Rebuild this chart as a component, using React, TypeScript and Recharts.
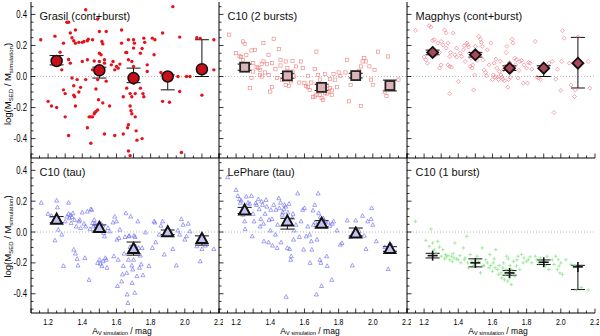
import React from 'react';
import { ScatterChart, Scatter, XAxis, YAxis, ReferenceLine, ErrorBar } from 'recharts';

type Pt = [number, number];

// ---------- axes ----------
const X_DOMAIN: [number, number] = [1.1, 2.2];
const Y_DOMAIN: [number, number] = [-0.525, 0.48];
const xTicks = [1.1, 1.15, 1.2, 1.25, 1.3, 1.35, 1.4, 1.45, 1.5, 1.55, 1.6, 1.65, 1.7, 1.75, 1.8, 1.85, 1.9, 1.95, 2.0, 2.05, 2.1, 2.15, 2.2];
const xTickLabels = [1.2, 1.4, 1.6, 1.8, 2.0, 2.2];
const xMajor = [1.1, 1.2, 1.3, 1.4, 1.5, 1.6, 1.7, 1.8, 1.9, 2.0, 2.1, 2.2];
const yTicks = [-0.5, -0.45, -0.4, -0.35, -0.3, -0.25, -0.2, -0.15, -0.1, -0.05, 0, 0.05, 0.1, 0.15, 0.2, 0.25, 0.3, 0.35, 0.4, 0.45];
const yTickLabels = [-0.4, -0.2, 0, 0.2, 0.4];

// ---------- binned averages ----------
const binAv = [1.25, 1.5, 1.7, 1.9, 2.1];

const grasilBinMean = [0.1, 0.04, -0.01, 0.0, 0.047];
const grasilBinLow = [0.025, 0.05, 0.03, 0.086, 0.047];
const grasilBinHigh = [0.035, 0.02, 0.064, 0.01, 0.19];

const c10TwoBinMean = [0.06, 0.004, -0.07, 0.006, -0.058];
const c10TwoBinLow = [0.02, 0.015, 0.02, 0.015, 0.035];
const c10TwoBinHigh = [0.02, 0.015, 0.02, 0.015, 0.035];

const magphysBinMean = [0.155, 0.14, 0.054, 0.054, 0.086];
const magphysBinLow = [0.015, 0.015, 0.015, 0.054, 0.16];
const magphysBinHigh = [0.015, 0.015, 0.015, 0.015, 0.166];

const c10TauBinMean = [0.08, 0.026, -0.11, -0.002, -0.045];
const c10TauBinLow = [0.02, 0.02, 0.04, 0.015, 0.04];
const c10TauBinHigh = [0.02, 0.02, 0.045, 0.015, 0.02];

const lephareBinMean = [0.14, 0.069, 0.054, -0.01, -0.11];
const lephareBinLow = [0.02, 0.05, 0.02, 0.015, 0.015];
const lephareBinHigh = [0.02, 0.02, 0.02, 0.036, 0.015];

const c10OneBinMean = [-0.153, -0.2, -0.265, -0.196, -0.226];
const c10OneBinLow = [0.015, 0.026, 0.015, 0.015, 0.147];
const c10OneBinHigh = [0.015, 0.026, 0.015, 0.015, 0.01];

// ---------- individual galaxies [A_V, log ratio] ----------
const grasilPoints: Pt[] = [
  [1.157, 0.237], [1.24, 0.26], [1.31, 0.35], [1.32, 0.35], [1.2, -0.16], [1.22, -0.19], [1.25, -0.2], [1.27, 0.157],
  [1.28, 0.043], [1.29, 0.215], [1.29, -0.086], [1.3, -0.11], [1.3, -0.26], [1.32, 0.11], [1.32, -0.38], [1.33, 0.086],
  [1.33, 0.28], [1.34, 0.25], [1.34, -0.01], [1.35, 0.23], [1.35, -0.06], [1.35, -0.12], [1.355, -0.13], [1.36, 0.3],
  [1.36, 0.215], [1.36, -0.19], [1.37, -0.02], [1.38, 0.22], [1.38, -0.1], [1.39, -0.07], [1.4, 0.22], [1.4, 0.097],
  [1.41, 0.226], [1.42, 0.43], [1.42, -0.02], [1.43, 0.23], [1.43, 0.108], [1.435, 0.24], [1.43, -0.33], [1.44, -0.26],
  [1.45, -0.26], [1.45, -0.43], [1.46, 0.043], [1.46, -0.26], [1.46, 0.237], [1.47, 0.1], [1.47, -0.24], [1.475, -0.23],
  [1.48, -0.08], [1.48, -0.226], [1.49, -0.02], [1.49, -0.215], [1.49, 0.37], [1.495, -0.15], [1.5, 0.29], [1.5, 0.15],
  [1.5, 0.097], [1.51, 0.043], [1.51, 0.14], [1.515, 0.226], [1.52, -0.17], [1.52, 0.21], [1.53, 0.086], [1.53, 0.108],
  [1.53, -0.37], [1.54, -0.03], [1.54, 0.29], [1.56, -0.19], [1.57, 0.075], [1.58, 0.097], [1.59, -0.38], [1.59, 0.043],
  [1.6, 0.065], [1.61, 0.054], [1.62, 0.08], [1.63, 0.3], [1.63, 0.215], [1.64, -0.13], [1.64, -0.37], [1.655, 0.155],
  [1.66, 0.155], [1.66, -0.075], [1.665, -0.33], [1.67, 0.237], [1.67, 0.108], [1.67, -0.31], [1.67, -0.48], [1.68, -0.51],
  [1.68, -0.11], [1.68, -0.19], [1.685, -0.22], [1.69, -0.13], [1.69, -0.24], [1.69, 0.097], [1.7, 0.065], [1.7, 0.183],
  [1.7, 0.237], [1.705, 0.215], [1.7, -0.043], [1.71, -0.26], [1.71, -0.11], [1.715, -0.35], [1.72, -0.41], [1.74, -0.075],
  [1.74, 0.15], [1.75, 0.18], [1.75, -0.4], [1.755, -0.11], [1.76, -0.13], [1.76, 0.247], [1.765, 0.22], [1.78, 0.075],
  [1.78, 0.032], [1.81, 0.247], [1.82, 0.14], [1.825, 0.237], [1.86, 0.026], [1.87, -0.16], [1.87, 0.28], [1.91, -0.166],
  [1.93, 0.45], [1.96, 0.0], [1.97, 0.254], [1.97, -0.097], [1.98, -0.49], [2.01, 0.0], [2.03, 0.0], [2.07, 0.25],
  [2.09, 0.245], [2.1, -0.12], [2.17, 0.043], [2.17, 0.237],
];

const c10TwoPoints: Pt[] = [
  [1.16, 0.27], [1.24, 0.226], [1.25, 0.21], [1.2, 0.15], [1.22, 0.133], [1.23, 0.125], [1.24, 0.108], [1.26, 0.14],
  [1.29, 0.168], [1.3, 0.086], [1.3, 0.032], [1.28, -0.075], [1.29, -0.01], [1.31, 0.172], [1.32, 0.06], [1.33, 0.054],
  [1.34, 0.043], [1.34, 0.01], [1.35, 0.0], [1.35, 0.08], [1.36, 0.215], [1.36, 0.097], [1.37, 0.026], [1.38, 0.08],
  [1.39, 0.14], [1.39, 0.01], [1.4, -0.097], [1.41, -0.069], [1.41, 0.086], [1.42, 0.243], [1.43, 0.047], [1.44, -0.01],
  [1.45, 0.176], [1.46, 0.108], [1.46, 0.071], [1.47, -0.02], [1.48, 0.004], [1.49, -0.054], [1.49, 0.097], [1.5, 0.054],
  [1.5, 0.026], [1.51, -0.06], [1.52, -0.032], [1.53, 0.1], [1.53, 0.032], [1.54, 0.0], [1.55, 0.065], [1.57, -0.039],
  [1.58, 0.097], [1.59, 0.054], [1.6, -0.043], [1.61, -0.06], [1.62, 0.004], [1.62, -0.069], [1.63, -0.086], [1.64, -0.039],
  [1.65, -0.133], [1.66, -0.129], [1.66, 0.047], [1.67, -0.118], [1.67, 0.16], [1.68, 0.01], [1.68, -0.082], [1.69, -0.118],
  [1.69, -0.02], [1.7, -0.14], [1.71, -0.15], [1.71, -0.086], [1.72, 0.017], [1.72, -0.107], [1.73, -0.06], [1.73, -0.11],
  [1.74, -0.097], [1.75, -0.017], [1.75, -0.075], [1.76, -0.118], [1.76, -0.09], [1.77, 0.017], [1.78, -0.02], [1.79, -0.069],
  [1.8, 0.026], [1.81, 0.004], [1.84, 0.026], [1.85, 0.108], [1.86, -0.16], [1.87, -0.054], [1.9, 0.01], [1.92, 0.037],
  [1.93, -0.19], [1.93, 0.065], [1.94, 0.097], [1.95, 0.118], [1.96, 0.097], [1.98, 0.065], [1.99, -0.02], [2.0, -0.054],
  [2.01, 0.043], [2.03, 0.16], [2.07, -0.097], [2.08, -0.125], [2.09, 0.129], [2.12, -0.054], [2.15, -0.02],
];

const magphysPoints: Pt[] = [
  [1.15, 0.297], [1.23, 0.327], [1.24, 0.318], [1.25, 0.232], [1.26, 0.237], [1.2, 0.125], [1.21, 0.108], [1.22, 0.086],
  [1.27, 0.14], [1.28, 0.215], [1.29, 0.155], [1.3, 0.075], [1.29, 0.054], [1.3, 0.226], [1.31, 0.204], [1.32, 0.3],
  [1.33, 0.28], [1.33, 0.183], [1.34, 0.075], [1.34, 0.215], [1.35, 0.129], [1.35, 0.065], [1.355, 0.155], [1.36, 0.06],
  [1.35, -0.11], [1.37, 0.28], [1.38, 0.14], [1.39, 0.125], [1.39, 0.183], [1.4, -0.032], [1.41, 0.15], [1.42, 0.129],
  [1.43, 0.172], [1.435, 0.198], [1.44, 0.097], [1.45, 0.215], [1.455, 0.204], [1.46, 0.19], [1.465, 0.15], [1.47, 0.065],
  [1.475, 0.118], [1.48, 0.054], [1.485, 0.075], [1.49, -0.086], [1.495, 0.01], [1.5, 0.194], [1.51, 0.103], [1.515, 0.129],
  [1.52, 0.258], [1.525, 0.15], [1.53, 0.24], [1.535, 0.22], [1.54, 0.194], [1.545, 0.108], [1.55, 0.043], [1.56, 0.026],
  [1.565, 0.004], [1.57, 0.172], [1.58, 0.075], [1.59, 0.215], [1.6, -0.02], [1.605, 0.01], [1.61, 0.086], [1.615, -0.004],
  [1.62, 0.112], [1.625, 0.054], [1.63, -0.004], [1.635, -0.02], [1.64, 0.032], [1.645, 0.097], [1.65, 0.01], [1.655, -0.004],
  [1.66, -0.017], [1.665, 0.043], [1.67, -0.028], [1.675, 0.065], [1.68, 0.155], [1.685, 0.194], [1.69, -0.069], [1.695, -0.02],
  [1.7, 0.09], [1.705, -0.004], [1.71, 0.032], [1.715, 0.24], [1.72, 0.215], [1.73, 0.118], [1.735, 0.075], [1.74, 0.108],
  [1.75, -0.01], [1.755, 0.039], [1.76, 0.097], [1.77, 0.103], [1.78, -0.043], [1.785, 0.075], [1.8, 0.054], [1.805, -0.043],
  [1.81, 0.09], [1.82, 0.086], [1.83, 0.047], [1.85, 0.226], [1.86, -0.004], [1.87, -0.01], [1.88, -0.02], [1.92, 0.054],
  [1.93, 0.086], [1.95, 0.097], [1.96, -0.232], [1.97, -0.017], [1.98, 0.047], [2.0, -0.09], [2.005, 0.097], [2.01, 0.295],
  [2.02, 0.247], [2.05, 0.086], [2.06, -0.054], [2.08, -0.129], [2.085, -0.086], [2.1, 0.254], [2.16, 0.097], [2.17, -0.075],
];

const c10TauPoints: Pt[] = [
  [1.16, 0.19], [1.25, 0.204], [1.255, 0.16], [1.32, 0.19], [1.2, 0.118], [1.22, 0.105], [1.24, -0.054], [1.26, 0.015],
  [1.28, -0.017], [1.29, -0.22], [1.3, 0.069], [1.31, 0.1], [1.32, 0.118], [1.325, 0.09], [1.33, 0.11], [1.335, 0.058],
  [1.34, 0.097], [1.345, 0.122], [1.35, -0.114], [1.355, 0.079], [1.36, -0.14], [1.365, 0.036], [1.37, -0.174], [1.375, -0.217],
  [1.38, 0.069], [1.385, 0.079], [1.39, 0.026], [1.4, 0.127], [1.41, 0.054], [1.415, -0.168], [1.42, 0.036], [1.43, 0.133],
  [1.44, -0.31], [1.445, 0.019], [1.45, 0.148], [1.455, 0.144], [1.46, 0.058], [1.465, 0.036], [1.47, 0.079], [1.475, 0.054],
  [1.48, 0.041], [1.485, 0.026], [1.49, -0.2], [1.495, 0.047], [1.5, 0.062], [1.502, -0.18], [1.505, -0.205], [1.51, 0.054],
  [1.513, 0.015], [1.515, -0.22], [1.52, 0.041], [1.522, -0.19], [1.525, -0.006], [1.53, -0.028], [1.535, -0.168], [1.54, -0.18],
  [1.545, -0.232], [1.55, 0.026], [1.56, 0.004], [1.58, 0.062], [1.585, -0.157], [1.59, 0.1], [1.6, 0.069], [1.603, -0.049],
  [1.606, -0.35], [1.61, -0.18], [1.615, -0.039], [1.62, 0.015], [1.63, -0.32], [1.635, -0.275], [1.64, -0.22], [1.645, -0.14],
  [1.65, -0.032], [1.655, 0.122], [1.66, -0.265], [1.663, -0.405], [1.667, -0.46], [1.67, -0.18], [1.672, -0.028], [1.675, -0.024],
  [1.68, -0.097], [1.683, 0.1], [1.69, -0.217], [1.692, -0.33], [1.695, -0.243], [1.7, -0.18], [1.703, -0.024], [1.707, -0.394],
  [1.709, -0.032], [1.712, -0.092], [1.716, -0.118], [1.72, -0.286], [1.725, 0.069], [1.73, -0.103], [1.735, -0.232], [1.74, -0.153],
  [1.745, -0.21], [1.75, -0.103], [1.755, -0.28], [1.77, -0.002], [1.79, -0.22], [1.81, -0.103], [1.82, 0.069], [1.825, 0.062],
  [1.83, -0.067], [1.85, -0.017], [1.86, 0.041], [1.87, 0.069], [1.88, -0.146], [1.9, -0.017], [1.93, -0.11], [1.95, -0.217],
  [1.96, 0.01], [1.97, -0.017], [1.98, 0.084], [1.99, 0.047], [2.0, -0.049], [2.01, -0.028], [2.02, 0.054], [2.03, 0.004],
  [2.07, -0.092], [2.09, -0.19], [2.1, -0.11], [2.12, -0.088], [2.17, -0.11],
];

const lepharePoints: Pt[] = [
  [1.15, 0.355], [1.2, 0.273], [1.21, 0.234], [1.22, 0.213], [1.225, 0.19], [1.23, 0.204], [1.24, 0.112], [1.25, 0.069],
  [1.253, 0.019], [1.26, 0.23], [1.27, 0.19], [1.28, 0.183], [1.29, 0.234], [1.295, -0.028], [1.3, 0.118], [1.305, 0.069],
  [1.315, 0.187], [1.32, 0.176], [1.33, 0.213], [1.335, 0.148], [1.34, 0.036], [1.345, 0.084], [1.35, 0.198], [1.355, 0.176],
  [1.36, 0.054], [1.363, -0.06], [1.37, 0.118], [1.375, 0.208], [1.38, 0.165], [1.39, -0.067], [1.393, 0.079], [1.4, 0.01],
  [1.403, 0.144], [1.41, 0.084], [1.413, -0.088], [1.42, 0.176], [1.43, -0.017], [1.433, 0.144], [1.44, -0.103], [1.443, 0.047],
  [1.45, 0.219], [1.453, 0.155], [1.46, 0.19], [1.463, -0.067], [1.47, 0.112], [1.473, 0.127], [1.48, 0.148], [1.483, 0.176],
  [1.49, 0.165], [1.493, -0.42], [1.5, -0.103], [1.503, 0.127], [1.51, 0.183], [1.513, -0.11], [1.52, -0.18], [1.523, -0.157],
  [1.53, 0.09], [1.533, 0.118], [1.536, -0.049], [1.54, 0.01], [1.55, 0.047], [1.56, 0.25], [1.57, -0.032], [1.58, 0.069],
  [1.59, 0.144], [1.595, -0.114], [1.6, 0.155], [1.61, -0.028], [1.62, 0.036], [1.63, -0.017], [1.633, -0.2], [1.64, -0.06],
  [1.643, -0.114], [1.65, 0.14], [1.653, 0.047], [1.66, 0.176], [1.663, 0.062], [1.67, -0.405], [1.673, -0.049], [1.68, 0.25],
  [1.683, 0.122], [1.69, -0.18], [1.693, 0.097], [1.696, -0.2], [1.7, -0.35], [1.71, 0.09], [1.713, 0.079], [1.72, 0.069],
  [1.73, -0.157], [1.733, -0.22], [1.74, 0.062], [1.75, 0.041], [1.76, -0.31], [1.763, 0.054], [1.77, 0.069], [1.79, 0.01],
  [1.81, -0.082], [1.82, -0.071], [1.85, 0.075], [1.87, -0.032], [1.88, -0.217], [1.9, 0.075], [1.91, -0.017], [1.92, 0.004],
  [1.94, 0.105], [1.95, -0.024], [1.96, -0.11], [1.97, 0.069], [1.99, 0.084], [1.993, 0.155], [2.0, 0.047], [2.02, -0.06],
  [2.07, -0.097], [2.09, -0.24], [2.11, -0.088],
];

const c10OnePoints: Pt[] = [
  [1.15, 0.069], [1.21, -0.054], [1.24, 0.019], [1.23, -0.093], [1.25, -0.071], [1.26, -0.114], [1.27, -0.136], [1.28, -0.06],
  [1.29, -0.097], [1.3, -0.157], [1.31, -0.114], [1.32, -0.174], [1.325, -0.146], [1.33, -0.161], [1.34, -0.153], [1.35, -0.18],
  [1.36, -0.157], [1.365, -0.19], [1.37, -0.14], [1.375, -0.168], [1.38, -0.071], [1.39, -0.174], [1.4, -0.18], [1.41, -0.153],
  [1.415, -0.2], [1.43, -0.103], [1.435, -0.18], [1.44, -0.168], [1.45, -0.028], [1.455, -0.2], [1.46, -0.232], [1.47, -0.146],
  [1.48, -0.19], [1.49, -0.217], [1.5, -0.18], [1.51, -0.157], [1.52, -0.19], [1.53, -0.265], [1.54, -0.103], [1.545, -0.217],
  [1.55, -0.22], [1.56, -0.18], [1.57, -0.2], [1.58, -0.232], [1.585, -0.146], [1.59, -0.217], [1.6, -0.254], [1.605, -0.2],
  [1.61, -0.174], [1.615, -0.232], [1.62, -0.114], [1.63, -0.243], [1.635, -0.275], [1.64, -0.217], [1.65, -0.265], [1.655, -0.297],
  [1.66, -0.232], [1.665, -0.2], [1.67, -0.31], [1.675, -0.275], [1.68, -0.243], [1.683, -0.157], [1.69, -0.318], [1.693, -0.174],
  [1.7, -0.297], [1.703, -0.217], [1.71, -0.34], [1.713, -0.243], [1.72, -0.27], [1.723, -0.19], [1.73, -0.287], [1.74, -0.22],
  [1.743, -0.18], [1.75, -0.157], [1.76, -0.243], [1.77, -0.146], [1.78, -0.2], [1.785, -0.168], [1.8, -0.19], [1.81, -0.18],
  [1.82, -0.161], [1.83, -0.2], [1.85, -0.157], [1.86, -0.18], [1.87, -0.2], [1.88, -0.168], [1.9, -0.19], [1.91, -0.22],
  [1.92, -0.157], [1.93, -0.243], [1.95, -0.18], [1.96, -0.21], [1.97, -0.157], [1.98, -0.243], [1.985, -0.18], [1.99, -0.22],
  [1.995, -0.265], [2.0, -0.2], [2.01, -0.275], [2.03, -0.18], [2.06, -0.21], [2.08, -0.217], [2.09, -0.376], [2.12, -0.36],
  [2.16, -0.376],
];

// ---------- layout ----------
const COL_X = [31, 219, 407];
const COL_W = 188;
const ROW_Y = [2, 158];
const ROW_H = [156, 155];
const ML = 32, MT = 4, MR = 4, MB = 24;
const FONT = '"Liberation Sans", Arial, Helvetica, sans-serif';

const near = (a: number, list: number[]) => list.some((l) => Math.abs(l - a) < 1e-6);
const fmt = (v: number) => (Math.abs(v) < 1e-9 ? '0.0' : v.toFixed(1));

function makeTick(orient: 'bottom' | 'top' | 'left' | 'right', showLabels: boolean) {
  return (props: any) => {
    const { x, y, payload } = props;
    const v = payload.value as number;
    const isX = orient === 'bottom' || orient === 'top';
    const major = isX ? near(v, xMajor) : near(v, yTickLabels);
    const len = major ? 4.5 : 2.5;
    let x2 = x, y2 = y;
    if (orient === 'bottom') y2 = y - len;
    if (orient === 'top') y2 = y + len;
    if (orient === 'left') x2 = x + len;
    if (orient === 'right') x2 = x - len;
    const labeled = showLabels && (isX ? near(v, xTickLabels) : near(v, yTickLabels));
    return (
      <g>
        <line x1={x} y1={y} x2={x2} y2={y2} stroke="#000" strokeWidth={0.8} />
        {labeled && orient === 'bottom' && (
          <text transform={`translate(${x},${y + 11.5}) scale(0.74,1)`} textAnchor="middle" fontSize={9.5} fontFamily={FONT} fill="#000">
            {fmt(v)}
          </text>
        )}
        {labeled && orient === 'left' && (
          <text transform={`translate(${x - 4},${y + 3.5}) scale(0.78,1)`} textAnchor="end" fontSize={10} fontFamily={FONT} fill="#000">
            {fmt(v)}
          </text>
        )}
      </g>
    );
  };
}

type Kind = 'dot' | 'square' | 'diamond' | 'triangle' | 'plus';

function smallShape(kind: Kind) {
  return (p: any) => {
    const { cx, cy } = p;
    if (kind === 'dot') return <circle cx={cx} cy={cy} r={1.7} fill="#e5121b" />;
    if (kind === 'square')
      return <rect x={cx - 1.6} y={cy - 1.6} width={3.2} height={3.2} fill="none" stroke="#f07c7c" strokeWidth={0.6} />;
    if (kind === 'diamond')
      return <polygon points={`${cx},${cy - 2} ${cx + 2},${cy} ${cx},${cy + 2} ${cx - 2},${cy}`} fill="none" stroke="#ee6a78" strokeWidth={0.6} />;
    if (kind === 'triangle')
      return <polygon points={`${cx},${cy - 2.2} ${cx + 2},${cy + 1.5} ${cx - 2},${cy + 1.5}`} fill="none" stroke="#6565ee" strokeWidth={0.6} />;
    return (
      <g stroke="#86e486" strokeWidth={0.7}>
        <line x1={cx - 1.8} y1={cy} x2={cx + 1.8} y2={cy} />
        <line x1={cx} y1={cy - 1.8} x2={cx} y2={cy + 1.8} />
      </g>
    );
  };
}

function bigShape(kind: Kind) {
  return (p: any) => {
    const { cx, cy } = p;
    if (kind === 'dot') return <circle cx={cx} cy={cy} r={5.5} fill="#c8101a" stroke="#111" strokeWidth={1.5} />;
    if (kind === 'square')
      return <rect x={cx - 4.5} y={cy - 4.5} width={9} height={9} fill="#dcb4b6" stroke="#222" strokeWidth={1.8} />;
    if (kind === 'diamond')
      return <polygon points={`${cx},${cy - 5.5} ${cx + 5.5},${cy} ${cx},${cy + 5.5} ${cx - 5.5},${cy}`} fill="#a84858" stroke="#111" strokeWidth={1.8} />;
    if (kind === 'triangle')
      return <polygon points={`${cx},${cy - 6} ${cx + 5.5},${cy + 4} ${cx - 5.5},${cy + 4}`} fill="#c4c4f4" stroke="#111" strokeWidth={2} />;
    return (
      <g stroke="#111" strokeWidth={1.6}>
        <line x1={cx - 5} y1={cy} x2={cx + 5} y2={cy} />
        <line x1={cx} y1={cy - 5} x2={cx} y2={cy + 5} />
      </g>
    );
  };
}

const emptyShape = () => <g />;

type PanelDef = {
  title: string;
  points: Pt[];
  mean: number[];
  low: number[];
  high: number[];
  kind: Kind;
  col: number;
  row: number;
};

const panels: PanelDef[] = [
  { title: 'Grasil (cont+burst)', points: grasilPoints, mean: grasilBinMean, low: grasilBinLow, high: grasilBinHigh, kind: 'dot', col: 0, row: 0 },
  { title: 'C10 (2 bursts)', points: c10TwoPoints, mean: c10TwoBinMean, low: c10TwoBinLow, high: c10TwoBinHigh, kind: 'square', col: 1, row: 0 },
  { title: 'Magphys (cont+burst)', points: magphysPoints, mean: magphysBinMean, low: magphysBinLow, high: magphysBinHigh, kind: 'diamond', col: 2, row: 0 },
  { title: 'C10 (tau)', points: c10TauPoints, mean: c10TauBinMean, low: c10TauBinLow, high: c10TauBinHigh, kind: 'triangle', col: 0, row: 1 },
  { title: 'LePhare (tau)', points: lepharePoints, mean: lephareBinMean, low: lephareBinLow, high: lephareBinHigh, kind: 'triangle', col: 1, row: 1 },
  { title: 'C10 (1 burst)', points: c10OnePoints, mean: c10OneBinMean, low: c10OneBinLow, high: c10OneBinHigh, kind: 'plus', col: 2, row: 1 },
];

function Panel({ def }: { def: PanelDef }) {
  const px = COL_X[def.col];
  const py = ROW_Y[def.row];
  const ph = ROW_H[def.row];
  const width = ML + COL_W + MR;
  const height = MT + ph + MB;
  const scatterData = def.points.map(([x, y]) => ({ x, y }));
  const binData = binAv.map((x, i) => ({ x, y: def.mean[i], err: [def.low[i], def.high[i]] }));
  const showY = def.col === 0;
  const showX = def.row === 1;
  return (
    <div style={{ position: 'absolute', left: px - ML, top: py - MT, width, height }}>
      <ScatterChart width={width} height={height} margin={{ top: MT, right: MR, bottom: 0, left: 0 }}>
        <XAxis
          xAxisId="b" type="number" dataKey="x" domain={X_DOMAIN} allowDataOverflow ticks={xTicks} interval={0}
          orientation="bottom" height={MB} tickSize={0} tickMargin={0} tickLine={false}
          axisLine={{ stroke: '#000', strokeWidth: 1 }} tick={makeTick('bottom', showX)}
        />
        <XAxis
          xAxisId="t" type="number" dataKey="x" domain={X_DOMAIN} allowDataOverflow ticks={xTicks} interval={0}
          orientation="top" height={0} tickSize={0} tickMargin={0} tickLine={false}
          axisLine={{ stroke: '#000', strokeWidth: 1 }} tick={makeTick('top', false)}
        />
        <YAxis
          yAxisId="l" type="number" dataKey="y" domain={Y_DOMAIN} allowDataOverflow ticks={yTicks} interval={0}
          orientation="left" width={ML} tickSize={0} tickMargin={0} tickLine={false}
          axisLine={{ stroke: '#000', strokeWidth: 1 }} tick={makeTick('left', showY)}
        />
        <YAxis
          yAxisId="r" type="number" dataKey="y" domain={Y_DOMAIN} allowDataOverflow ticks={yTicks} interval={0}
          orientation="right" width={0} tickSize={0} tickMargin={0} tickLine={false}
          axisLine={{ stroke: '#000', strokeWidth: 1 }} tick={makeTick('right', false)}
        />
        <ReferenceLine xAxisId="b" yAxisId="l" y={0} stroke="#a8a8a8" strokeWidth={0.8} strokeDasharray="1 2" />
        <Scatter xAxisId="b" yAxisId="l" data={scatterData} shape={smallShape(def.kind)} isAnimationActive={false} />
        <Scatter xAxisId="t" yAxisId="r" data={binData} shape={emptyShape} isAnimationActive={false} />
        <Scatter xAxisId="b" yAxisId="l" data={binData} shape={bigShape(def.kind)} isAnimationActive={false} />
        <Scatter xAxisId="b" yAxisId="l" data={binData} shape={emptyShape} isAnimationActive={false}>
          <ErrorBar dataKey="err" direction="y" width={7} stroke="#111" strokeWidth={1} isAnimationActive={false} />
        </Scatter>
      </ScatterChart>
    </div>
  );
}

function Labels() {
  return (
    <svg width={600} height={336} style={{ position: 'absolute', left: 0, top: 0, pointerEvents: 'none' }}>
      {panels.map((p) => (
        <text key={p.title} x={COL_X[p.col] + 8.5} y={ROW_Y[p.row] + 17.5} fontSize={11} fontFamily={FONT} fill="#111">
          {p.title}
        </text>
      ))}
      {ROW_Y.map((ry, i) => (
        <text
          key={'yl' + i}
          transform={`translate(10.5,${ry + ROW_H[i] / 2 + (i === 0 ? 4 : 1)}) rotate(-90)`}
          textAnchor="middle" fontSize={9.5} fontFamily={FONT} fill="#000"
        >
          log(M<tspan fontSize={6} dy={2}>SED</tspan>
          <tspan dy={-2}> / M</tspan>
          <tspan fontSize={6} dy={2}>simulation</tspan>
          <tspan dy={-2}>)</tspan>
        </text>
      ))}
      {COL_X.map((cx, i) => (
        <text key={'xl' + i} x={cx + COL_W / 2 - 3} y={333.5} textAnchor="middle" fontSize={8.5} fontFamily={FONT} fill="#000">
          A<tspan fontSize={5.5} dy={1.5}>V simulation</tspan>
          <tspan dy={-1.5}> / mag</tspan>
        </text>
      ))}
    </svg>
  );
}

export default function App() {
  return (
    <div style={{ position: 'absolute', left: 0, top: 0, width: 600, height: 336, background: '#fff', overflow: 'hidden' }}>
      {panels.map((p) => (
        <Panel key={p.title} def={p} />
      ))}
      <Labels />
    </div>
  );
}
